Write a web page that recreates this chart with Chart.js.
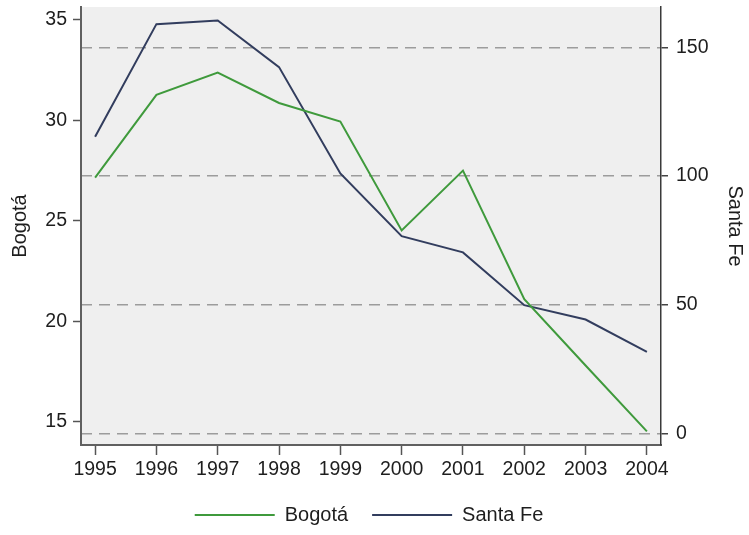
<!DOCTYPE html>
<html><head><meta charset="utf-8">
<script src="https://cdn.jsdelivr.net/npm/chart.js@4.4.1/dist/chart.umd.min.js"></script>
<style>html,body{margin:0;padding:0;background:#fff;}</style>
</head><body>
<canvas id="c" width="749" height="535" style="display:block;width:749px;height:535px"></canvas>
<script>
const years = [1995, 1996, 1997, 1998, 1999, 2000, 2001, 2002, 2003, 2004];
const bogota = [27.15, 31.27, 32.38, 30.87, 29.94, 24.52, 27.5, 21.1, 17.8, 14.52];
const santaFe = [115.2, 159.0, 160.4, 142.3, 101.0, 76.6, 70.3, 49.8, 44.2, 31.6];
const leftTicks = [15, 20, 25, 30, 35];
const rightTicks = [0, 50, 100, 150];
const seriesNames = ['Bogotá', 'Santa Fe'];

const GREEN = '#3f9a3c';
const NAVY = '#323d5e';
const TXT = '#1e1e1e';

const bgPlugin = {
  id: 'plotBg',
  beforeDraw(chart) {
    const a = chart.chartArea, ctx = chart.ctx;
    ctx.save();
    ctx.fillStyle = '#efefef';
    ctx.fillRect(a.left, a.top, a.right - a.left, a.bottom - a.top);
    ctx.restore();
  }
};

Chart.defaults.font.family = "'Liberation Sans', Arial, sans-serif";
Chart.defaults.color = TXT;

function noPad(s) { s.paddingTop = 0; s.paddingBottom = 0; s.paddingLeft = 0; s.paddingRight = 0; }

new Chart(document.getElementById('c'), {
  type: 'line',
  data: {
    datasets: [
      { label: seriesNames[0], data: years.map((y, i) => ({x: y, y: bogota[i]})), yAxisID: 'y',
        borderColor: GREEN, backgroundColor: GREEN, borderWidth: 2, pointRadius: 0, tension: 0, fill: false },
      { label: seriesNames[1], data: years.map((y, i) => ({x: y, y: santaFe[i]})), yAxisID: 'y1',
        borderColor: NAVY, backgroundColor: NAVY, borderWidth: 2, pointRadius: 0, tension: 0, fill: false }
    ]
  },
  options: {
    responsive: false,
    animation: false,
    devicePixelRatio: 1,
    layout: { padding: { top: 7, left: 0, right: 11, bottom: 0 } },
    plugins: {
      tooltip: { enabled: false },
      legend: {
        position: 'bottom',
        align: 'center',
        labels: {
          boxWidth: 80,
          boxHeight: 2,
          padding: 24,
          color: TXT,
          font: { size: 20 },
          generateLabels(chart) {
            const items = Chart.defaults.plugins.legend.labels.generateLabels(chart);
            items.forEach(it => { it.lineWidth = 0; });
            return items;
          }
        }
      }
    },
    scales: {
      x: {
        type: 'linear',
        min: 1994.77, max: 2004.23,
        afterFit: s => { s.height = 36; noPad(s); },
        afterBuildTicks: s => { s.ticks = years.map(v => ({value: v})); },
        ticks: { autoSkip: false, maxRotation: 0, padding: 3, font: { size: 19.5 }, color: TXT,
                 callback: v => String(v) },
        grid: { drawOnChartArea: false, drawTicks: true, tickLength: 10, tickColor: '#555', tickWidth: 1.5 },
        border: { display: true, color: '#606060', width: 2 }
      },
      y: {
        type: 'linear', position: 'left',
        min: 13.84, max: 35.647,
        afterFit: s => { s.width = 81; noPad(s); },
        afterBuildTicks: s => { s.ticks = leftTicks.map(v => ({value: v})); },
        ticks: { padding: 6, font: { size: 19.5 }, color: TXT },
        grid: { drawOnChartArea: false, drawTicks: true, tickLength: 8, tickColor: '#555', tickWidth: 1.5 },
        border: { display: true, color: '#606060', width: 2 },
        title: { display: true, text: seriesNames[0], font: { size: 20 }, color: TXT, padding: { top: 8, bottom: 0 } }
      },
      y1: {
        type: 'linear', position: 'right',
        min: -4.55, max: 165.66,
        afterFit: s => { s.width = 77; noPad(s); },
        afterBuildTicks: s => { s.ticks = rightTicks.map(v => ({value: v})); },
        ticks: { padding: 8, font: { size: 19.5 }, color: TXT },
        grid: { drawOnChartArea: true, drawTicks: true, tickLength: 7, color: '#9c9c9c', lineWidth: 1.5,
                tickColor: '#444', tickWidth: 1.5, tickBorderDash: [] },
        border: { display: true, color: '#3a3a3a', width: 1.5, dash: [11, 7] },
        title: { display: true, text: seriesNames[1], font: { size: 20 }, color: TXT, padding: { top: -9, bottom: 0 } }
      }
    }
  },
  plugins: [bgPlugin]
});
</script>
</body></html>
